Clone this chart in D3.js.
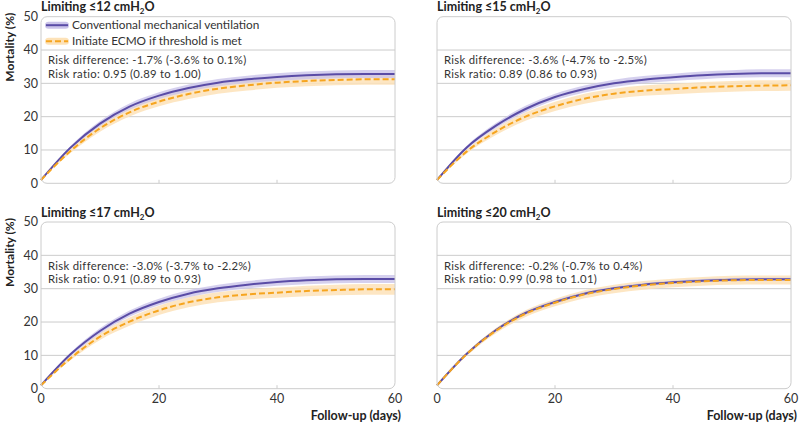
<!DOCTYPE html>
<html><head><meta charset="utf-8">
<script src="https://cdn.jsdelivr.net/npm/d3@7"></script>
<style>body{margin:0;background:#fff}svg{display:block}text{font-family:Lato,"Open Sans",sans-serif}</style>
</head><body><div id="c"></div>
<script>
const days = [0,5,10,15,20,25,30,35,40,45,50,55,60];
const titles = ["≤12","≤15","≤17","≤20"];
const seriesNames = ["Conventional mechanical ventilation","Initiate ECMO if threshold is met"];
const xTicks = [0,20,40,60];
const yTicks = [0,10,20,30,40,50];
// mortality (%)
const conv12 = [1,10.7,17.9,23.0,26.3,28.6,30.2,31.2,31.9,32.4,32.7,32.8,32.8];
const ecmo12 = [1,9.7,16.5,21.3,24.5,26.8,28.4,29.4,30.2,30.7,31.0,31.2,31.2];
const conv15 = [1,10.7,17.3,22.3,25.9,28.3,30.0,31.1,31.8,32.4,32.8,33.0,33.0];
const ecmo15 = [1,9.5,15.5,20.0,23.1,25.4,26.9,27.8,28.3,28.8,29.1,29.3,29.4];
const conv17 = [1,10.3,17.3,22.5,26.0,28.5,30.1,31.2,32.0,32.5,32.8,32.9,32.9];
const ecmo17 = [1,9.1,15.6,20.1,23.5,25.9,27.4,28.3,28.8,29.3,29.6,29.8,29.8];
const conv20 = [1,10.4,17.6,22.7,26.0,28.5,30.1,31.2,31.9,32.4,32.7,32.8,32.8];
const ecmo20 = [1,10.3,17.4,22.5,25.8,28.3,29.9,31.0,31.7,32.2,32.5,32.6,32.6];
// confidence band half-widths (percentage points)
const convBand = [0,0.5,0.8,0.95,1.0,1.05,1.1,1.1,1.1,1.15,1.15,1.2,1.2];
const ecmoBand = [0,0.6,1.0,1.25,1.4,1.5,1.5,1.55,1.55,1.6,1.6,1.6,1.6];
const convBand20 = [0,0.3,0.4,0.45,0.5,0.5,0.5,0.5,0.5,0.5,0.5,0.5,0.5];
const ecmoBand20 = [0,0.5,0.8,1.0,1.1,1.2,1.25,1.3,1.3,1.3,1.35,1.35,1.35];
const riskDiff = ["-1.7% (-3.6% to 0.1%)","-3.6% (-4.7% to -2.5%)","-3.0% (-3.7% to -2.2%)","-0.2% (-0.7% to 0.4%)"];
const riskRatio = ["0.95 (0.89 to 1.00)","0.89 (0.86 to 0.93)","0.91 (0.89 to 0.93)","0.99 (0.98 to 1.01)"];

const panels = [
  {conv:conv12, ecmo:ecmo12, cb:convBand, eb:ecmoBand},
  {conv:conv15, ecmo:ecmo15, cb:convBand, eb:ecmoBand},
  {conv:conv17, ecmo:ecmo17, cb:convBand, eb:ecmoBand},
  {conv:conv20, ecmo:ecmo20, cb:convBand20, eb:ecmoBand20}
];
const geo = [
  {x0:41,x1:395,yb:183.3,yt:16.7},
  {x0:437,x1:791,yb:183.3,yt:16.7},
  {x0:41,x1:395,yb:388.7,yt:222},
  {x0:437,x1:791,yb:388.7,yt:222}
];
const PURPLE="#5a4ca6", PBAND="#cbc4ea", ORANGE="#f6a51f", OBAND="#fde2b8", GRID="#cccccc", TXT="#333";

const svg = d3.select("#c").append("svg").attr("width",800).attr("height",423);

panels.forEach((p,i)=>{
  const g = geo[i];
  const left = i%2===0, bottom = i>=2;
  const x = d3.scaleLinear().domain([0,60]).range([g.x0,g.x1]);
  const y = d3.scaleLinear().domain([0,50]).range([g.yb,g.yt]);
  const G = svg.append("g");
  G.selectAll("line.grid").data(yTicks.filter(v=>v>0&&v<50)).join("line")
    .attr("x1",g.x0).attr("x2",g.x1).attr("y1",d=>y(d)).attr("y2",d=>y(d))
    .attr("stroke",GRID).attr("stroke-width",1);
  G.selectAll("line.xt").data(xTicks.filter(v=>v>0&&v<60)).join("line")
    .attr("x1",d=>x(d)).attr("x2",d=>x(d)).attr("y1",g.yb).attr("y2",g.yb-3.5)
    .attr("stroke",GRID).attr("stroke-width",1);
  const area = (vals,band)=>d3.area().x((d,j)=>x(days[j])).y0((d,j)=>y(vals[j]-band[j])).y1((d,j)=>y(vals[j]+band[j])).curve(d3.curveMonotoneX)(vals);
  G.append("path").attr("d",area(p.ecmo,p.eb)).attr("fill",OBAND).attr("opacity",0.85);
  G.append("path").attr("d",area(p.conv,p.cb)).attr("fill",PBAND).attr("opacity",0.8);
  const line = vals=>d3.line().x((d,j)=>x(days[j])).y(d=>y(d)).curve(d3.curveMonotoneX)(vals);
  G.append("path").attr("d",line(p.conv)).attr("fill","none").attr("stroke",PURPLE).attr("stroke-width",2);
  G.append("path").attr("d",line(p.ecmo)).attr("fill","none").attr("stroke",ORANGE).attr("stroke-width",2).attr("stroke-dasharray","6,3");
  G.append("rect").attr("x",g.x0).attr("y",g.yt).attr("width",g.x1-g.x0).attr("height",g.yb-g.yt)
    .attr("rx",6).attr("fill","none").attr("stroke",GRID).attr("stroke-width",1);
  const t = G.append("text").attr("x",g.x0).attr("y",g.yt-5.5).attr("font-size",12.5).attr("font-weight","bold").attr("fill","#222");
  t.append("tspan").text("Limiting "+titles[i]+" cmH");
  t.append("tspan").attr("font-size",8).attr("dy",3).text("2");
  t.append("tspan").attr("dy",-3).text("O");
  G.append("text").attr("x",g.x0+7).attr("y",y(35.7)).attr("font-size",11.3).attr("letter-spacing","0.3px").attr("fill",TXT).text("Risk difference: "+riskDiff[i]);
  G.append("text").attr("x",g.x0+7).attr("y",y(31.6)).attr("font-size",11.3).attr("letter-spacing","0.3px").attr("fill",TXT).text("Risk ratio: "+riskRatio[i]);
  if(left){
    G.selectAll("text.yt").data(yTicks).join("text")
      .attr("x",g.x0-3).attr("y",d=>y(d)).attr("dy","0.35em").attr("text-anchor","end")
      .attr("font-size",12.5).attr("fill",TXT).text(d=>d);
    G.append("text").attr("transform",`translate(14,${g.yt-4}) rotate(-90)`).attr("text-anchor","end")
      .attr("font-size",12).attr("font-weight","bold").attr("fill","#222").text("Mortality (%)");
  }
  if(bottom){
    G.selectAll("text.xl").data(xTicks).join("text")
      .attr("x",d=>x(d)).attr("y",g.yb+14.6).attr("text-anchor","middle")
      .attr("font-size",12.5).attr("fill",TXT).text(d=>d);
    G.append("text").attr("x",g.x1+6).attr("y",g.yb+31.2).attr("text-anchor","end")
      .attr("font-size",12.5).attr("font-weight","bold").attr("fill","#222").text("Follow-up (days)");
  }
  if(i===0){
    const L = G.append("g");
    [0,1].forEach(k=>{
      const ly = g.yt + 8.5 + k*16;
      L.append("rect").attr("x",g.x0+4).attr("y",ly-3.5).attr("width",24).attr("height",7).attr("rx",3.5)
        .attr("fill",k===0?PBAND:OBAND);
      L.append("line").attr("x1",g.x0+5).attr("x2",g.x0+27).attr("y1",ly).attr("y2",ly)
        .attr("stroke",k===0?PURPLE:ORANGE).attr("stroke-width",2).attr("stroke-dasharray",k===0?null:"6,3");
      L.append("text").attr("x",g.x0+31).attr("y",ly).attr("dy","0.35em").attr("font-size",11.8).attr("fill",TXT).text(seriesNames[k]);
    });
  }
});
</script></body></html>
